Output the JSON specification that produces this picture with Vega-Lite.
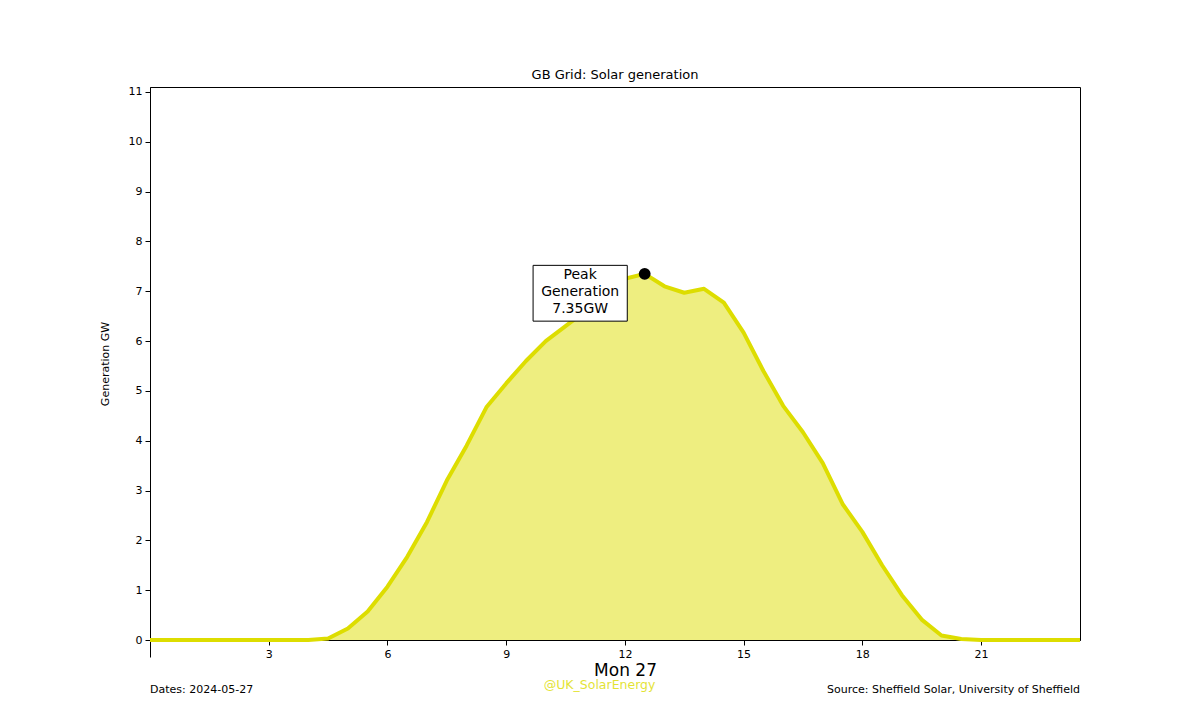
{
  "$schema": "https://vega.github.io/schema/vega-lite/v6.json",
  "autosize": "none",
  "width": 930,
  "height": 553,
  "padding": {"left": 150, "top": 87, "right": 120, "bottom": 80},
  "background": "white",
  "config": {
    "font": "DejaVu Sans",
    "view": {"stroke": "black", "strokeWidth": 1},
    "axis": {"domainColor": "black", "tickColor": "black", "labelColor": "black", "titleColor": "black", "labelFont": "DejaVu Sans", "titleFont": "DejaVu Sans", "titleFontWeight": "normal", "grid": false}
  },
  "title": {"text": "GB Grid: Solar generation", "fontSize": 13, "fontWeight": "normal", "font": "DejaVu Sans", "color": "black", "anchor": "middle", "offset": 4},
  "datasets": {
    "gen": [
      {"hour": 0, "gw": 0}, {"hour": 0.5, "gw": 0}, {"hour": 1, "gw": 0}, {"hour": 1.5, "gw": 0},
      {"hour": 2, "gw": 0}, {"hour": 2.5, "gw": 0}, {"hour": 3, "gw": 0}, {"hour": 3.5, "gw": 0},
      {"hour": 4, "gw": 0}, {"hour": 4.5, "gw": 0.03}, {"hour": 5, "gw": 0.23}, {"hour": 5.5, "gw": 0.57},
      {"hour": 6, "gw": 1.07}, {"hour": 6.5, "gw": 1.67}, {"hour": 7, "gw": 2.37}, {"hour": 7.5, "gw": 3.2},
      {"hour": 8, "gw": 3.9}, {"hour": 8.5, "gw": 4.67}, {"hour": 9, "gw": 5.15}, {"hour": 9.5, "gw": 5.6},
      {"hour": 10, "gw": 6.0}, {"hour": 10.5, "gw": 6.3}, {"hour": 11, "gw": 6.6}, {"hour": 11.5, "gw": 6.95},
      {"hour": 12, "gw": 7.25}, {"hour": 12.5, "gw": 7.35}, {"hour": 13, "gw": 7.1}, {"hour": 13.5, "gw": 6.97},
      {"hour": 14, "gw": 7.05}, {"hour": 14.5, "gw": 6.77}, {"hour": 15, "gw": 6.17}, {"hour": 15.5, "gw": 5.4},
      {"hour": 16, "gw": 4.7}, {"hour": 16.5, "gw": 4.17}, {"hour": 17, "gw": 3.55}, {"hour": 17.5, "gw": 2.73},
      {"hour": 18, "gw": 2.17}, {"hour": 18.5, "gw": 1.5}, {"hour": 19, "gw": 0.9}, {"hour": 19.5, "gw": 0.41},
      {"hour": 20, "gw": 0.09}, {"hour": 20.5, "gw": 0.02}, {"hour": 21, "gw": 0}, {"hour": 21.5, "gw": 0},
      {"hour": 22, "gw": 0}, {"hour": 22.5, "gw": 0}, {"hour": 23, "gw": 0}, {"hour": 23.5, "gw": 0}
    ],
    "peak": [{"hour": 12.5, "gw": 7.35}],
    "box": [{"x1": 9.68, "x2": 12.06, "y1": 6.4, "y2": 7.52, "tx": 10.87, "ty": 7.32, "label": ["Peak", "Generation", "7.35GW"]}],
    "left_note": [{"hour": 0, "gw": -1.0, "label": "Dates: 2024-05-27"}],
    "right_note": [{"hour": 23.5, "gw": -1.0, "label": "Source: Sheffield Solar, University of Sheffield"}],
    "brand": [{"hour": 11.36, "gw": -0.9, "label": "@UK_SolarEnergy"}]
  },
  "layer": [
    {
      "data": {"name": "gen"},
      "mark": {"type": "area", "color": "#eeee80", "opacity": 1},
      "encoding": {
        "x": {"field": "hour", "type": "quantitative", "scale": {"domain": [0, 23.5], "nice": false, "zero": false},
          "axis": {"values": [0, 3, 6, 9, 12, 15, 18, 21], "labelExpr": "datum.value == 0 ? '' : datum.label", "labelFontSize": 11, "labelPadding": 3,
            "tickSize": {"condition": {"test": "datum.value == 0", "value": 17}, "value": 5},
            "title": "Mon 27", "titleFontSize": 17, "titleX": 475, "titlePadding": 3}},
        "y": {"field": "gw", "type": "quantitative", "scale": {"domain": [0, 11.1], "nice": false},
          "axis": {"values": [0, 0.25, 0.5, 0.75, 1, 1.25, 1.5, 1.75, 2, 2.25, 2.5, 2.75, 3, 3.25, 3.5, 3.75, 4, 4.25, 4.5, 4.75, 5, 5.25, 5.5, 5.75, 6, 6.25, 6.5, 6.75, 7, 7.25, 7.5, 7.75, 8, 8.25, 8.5, 8.75, 9, 9.25, 9.5, 9.75, 10, 10.25, 10.5, 10.75, 11],
            "labelExpr": "datum.value % 1 == 0 ? datum.label : ''", "labelFontSize": 11, "labelPadding": 3,
            "tickSize": {"condition": {"test": "datum.value % 1 == 0", "value": 5}, "value": 2.5},
            "title": "Generation GW", "titleFontSize": 11, "titlePadding": 18}}
      }
    },
    {
      "data": {"name": "gen"},
      "mark": {"type": "line", "color": "#dddd00", "strokeWidth": 4, "strokeJoin": "round"},
      "encoding": {"x": {"field": "hour", "type": "quantitative"}, "y": {"field": "gw", "type": "quantitative"}}
    },
    {
      "data": {"name": "peak"},
      "mark": {"type": "point", "filled": true, "color": "black", "size": 140, "opacity": 1},
      "encoding": {"x": {"field": "hour", "type": "quantitative"}, "y": {"field": "gw", "type": "quantitative"}}
    },
    {
      "data": {"name": "box"},
      "mark": {"type": "rect", "fill": "white", "stroke": "black", "strokeWidth": 1},
      "encoding": {"x": {"field": "x1", "type": "quantitative"}, "x2": {"field": "x2"}, "y": {"field": "y1", "type": "quantitative"}, "y2": {"field": "y2"}}
    },
    {
      "data": {"name": "box"},
      "mark": {"type": "text", "fontSize": 14, "align": "center", "baseline": "middle", "lineHeight": 17, "color": "black"},
      "encoding": {"x": {"field": "tx", "type": "quantitative"}, "y": {"field": "ty", "type": "quantitative"}, "text": {"field": "label"}}
    },
    {
      "data": {"name": "left_note"},
      "mark": {"type": "text", "fontSize": 11, "baseline": "middle", "align": "left", "color": "black"},
      "encoding": {"x": {"field": "hour", "type": "quantitative"}, "y": {"field": "gw", "type": "quantitative"}, "text": {"field": "label"}}
    },
    {
      "data": {"name": "right_note"},
      "mark": {"type": "text", "fontSize": 11, "baseline": "middle", "align": "right", "color": "black"},
      "encoding": {"x": {"field": "hour", "type": "quantitative"}, "y": {"field": "gw", "type": "quantitative"}, "text": {"field": "label"}}
    },
    {
      "data": {"name": "brand"},
      "mark": {"type": "text", "fontSize": 12.5, "align": "center", "baseline": "middle", "color": "#dddd00", "opacity": 0.8},
      "encoding": {"x": {"field": "hour", "type": "quantitative"}, "y": {"field": "gw", "type": "quantitative"}, "text": {"field": "label"}}
    }
  ]
}
